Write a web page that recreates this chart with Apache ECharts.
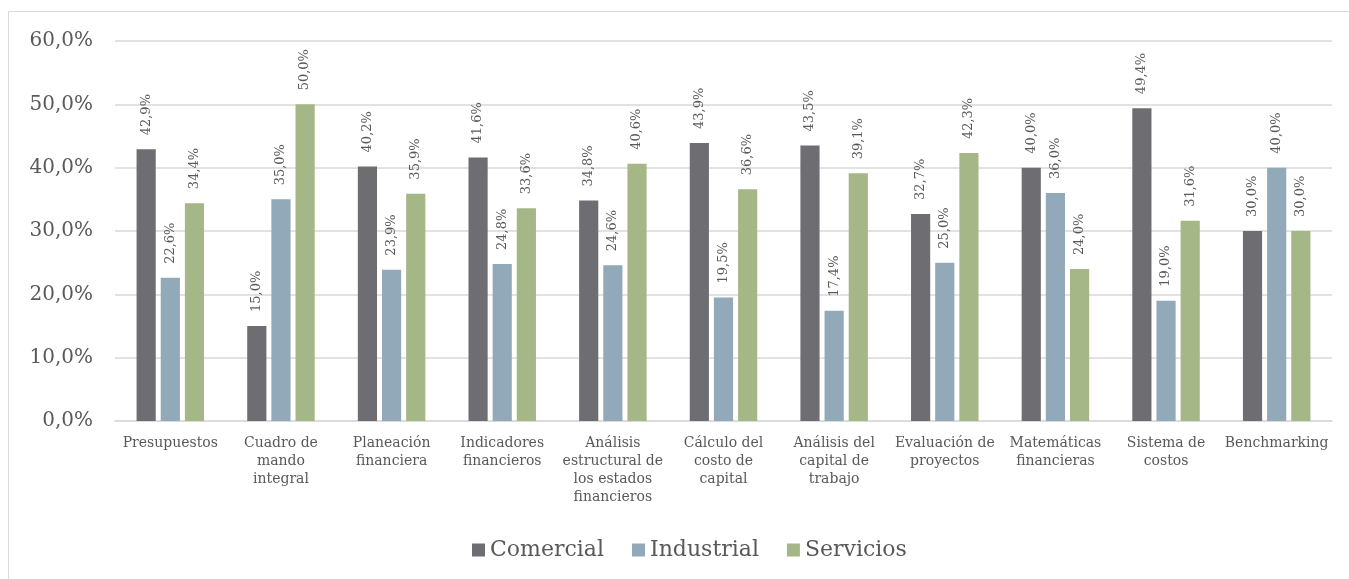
<!DOCTYPE html>
<html><head><meta charset="utf-8">
<script src="https://cdn.jsdelivr.net/npm/echarts@6/dist/echarts.min.js"></script>
<style>html,body{margin:0;padding:0;background:#fff}#c{width:1349px;height:579px;}</style>
</head><body><div id="c"></div>
<script>
var categories = ['Presupuestos','Cuadro de\nmando\nintegral','Planeación\nfinanciera','Indicadores\nfinancieros','Análisis\nestructural de\nlos estados\nfinancieros','Cálculo del\ncosto de\ncapital','Análisis del\ncapital de\ntrabajo','Evaluación de\nproyectos','Matemáticas\nfinancieras','Sistema de\ncostos','Benchmarking'];
var comercial = [42.9,15.0,40.2,41.6,34.8,43.9,43.5,32.7,40.0,49.4,30.0];
var industrial = [22.6,35.0,23.9,24.8,24.6,19.5,17.4,25.0,36.0,19.0,40.0];
var servicios = [34.4,50.0,35.9,33.6,40.6,36.6,39.1,42.3,24.0,31.6,30.0];
var seriesNames = ['Comercial','Industrial','Servicios'];
var colors = ['#6e6d72','#92a9b9','#a5b787'];
var FONT = 'DejaVu Serif';
function fmt(v){return v.toFixed(1).replace('.',',')+'%';}
var chart = echarts.init(document.getElementById('c'));
function mk(name,data,color){
  return {name:name,type:'bar',data:data,itemStyle:{color:color},barGap:'26%',barCategoryGap:'39%',
    label:{show:true,position:'top',rotate:90,align:'left',verticalAlign:'middle',distance:14,
      formatter:function(p){return fmt(p.value);},fontFamily:FONT,fontSize:13,color:'#595959'}};
}
chart.setOption({
  animation:false,
  graphic:[{type:'rect',shape:{x:8.5,y:11.5,width:1345,height:580},style:{fill:'none',stroke:'#d9d9d9',lineWidth:1}}],
  grid:{left:115,right:17,top:41,bottom:158},
  legend:{data:seriesNames,top:534,left:467,itemWidth:13,itemHeight:13,itemGap:28,icon:'rect',
    textStyle:{fontFamily:FONT,fontSize:22,color:'#595959'}},
  xAxis:{type:'category',data:categories,axisTick:{show:false},
    axisLine:{lineStyle:{color:'#d9d9d9',width:1.5}},
    axisLabel:{interval:0,fontFamily:FONT,fontSize:14,color:'#595959',lineHeight:18,margin:13}},
  yAxis:{type:'value',min:0,max:60,interval:10,
    axisLabel:{formatter:function(v){return fmt(v);},fontFamily:FONT,fontSize:20,color:'#595959',margin:22},
    splitLine:{lineStyle:{color:'#d9d9d9',width:1.5}},axisLine:{show:false},axisTick:{show:false}},
  series:[mk(seriesNames[0],comercial,colors[0]),mk(seriesNames[1],industrial,colors[1]),mk(seriesNames[2],servicios,colors[2])]
});
</script></body></html>
